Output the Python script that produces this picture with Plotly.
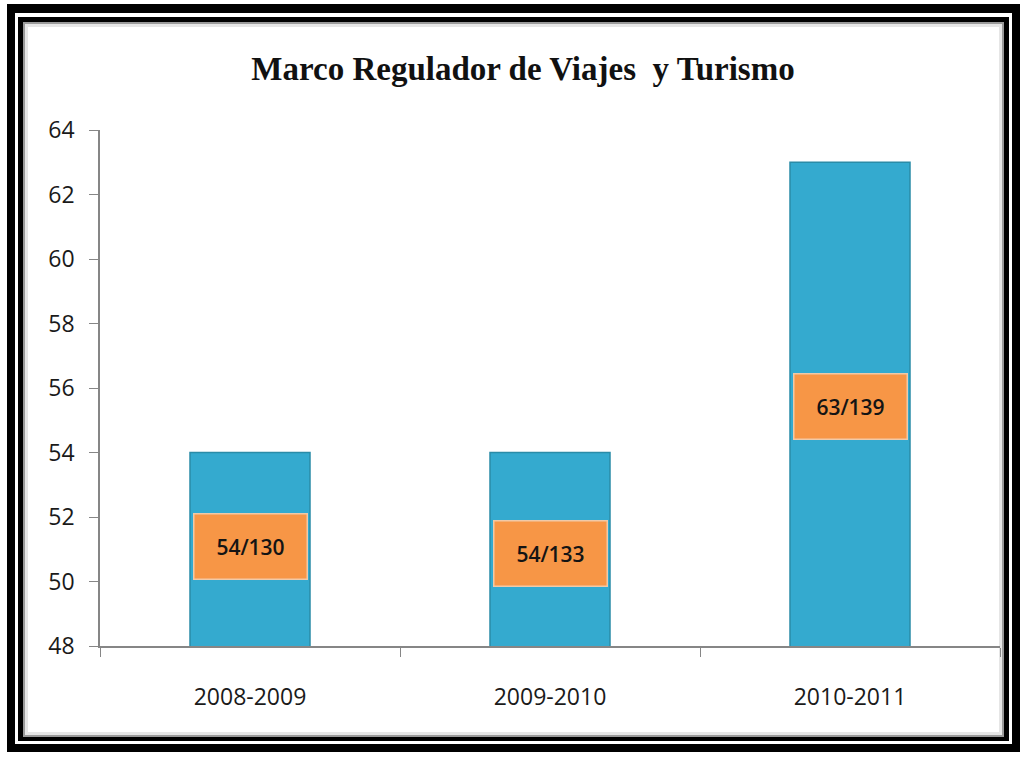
import plotly.graph_objects as go

# ---- data ----
categories = ["2008-2009", "2009-2010", "2010-2011"]
values = [54, 54, 63]
value_labels = ["54/130", "54/133", "63/139"]
y_ticks = [48, 50, 52, 54, 56, 58, 60, 62, 64]

# ---- layout constants (pixels) ----
W, H = 1023, 757
ML, MR, MT, MB = 100, 23, 130, 111
PW, PH = W - ML - MR, H - MT - MB

# label box placement (data units, y position of each label centre)
label_y = [51.07, 50.87, 55.43]


def px_x(p):
    return (p - ML) / PW


def px_y(p):
    return (H - MB - p) / PH


fig = go.Figure()
fig.add_trace(go.Bar(
    x=categories, y=values, width=0.4,
    marker=dict(color="#34AACF", line=dict(color="#2A8CA8", width=1.5)),
    hoverinfo="x+y", showlegend=False,
))

shapes = []
def rect(x0, y0, x1, y1, fill, line_color=None, lw=0):
    shapes.append(dict(
        type="rect", xref="paper", yref="paper", layer="below",
        x0=px_x(x0), x1=px_x(x1), y0=px_y(y1), y1=px_y(y0),
        fillcolor=fill, line=dict(color=line_color or fill, width=lw),
    ))

rect(7, 4, 1020, 752, "black")
rect(15, 13, 1012, 744, "white")
rect(18, 17, 1009, 741, "black")
rect(23, 22, 1004, 737, "#9a9a9a")
rect(25, 24, 1002, 735, "#e6e6e6")
rect(28, 27, 999, 732, "white")

annotations = []
for c, lab, ly in zip(categories, value_labels, label_y):
    annotations.append(dict(
        x=c, y=ly, xref="x", yref="y", text=lab, showarrow=False,
        width=112, height=64, bgcolor="#F79646", bordercolor="#F2C9A6",
        borderwidth=1.5, borderpad=0,
        font=dict(family="Open Sans", size=21, color="#141414", weight=600),
    ))

fig.update_layout(
    width=W, height=H,
    margin=dict(l=ML, r=MR, t=MT, b=MB, pad=0),
    paper_bgcolor="white", plot_bgcolor="rgba(0,0,0,0)",
    title=dict(
        text="<b>Marco Regulador de Viajes  y Turismo</b>",
        font=dict(family="Liberation Serif", size=33, color="#111111"),
        x=523 / W, xanchor="center", xref="container",
        y=1 - 68 / H, yanchor="middle", yref="container",
    ),
    shapes=shapes,
    annotations=annotations,
    bargap=0.6,
)

fig.update_xaxes(
    type="category", tickson="boundaries", ticks="outside", ticklen=9,
    tickcolor="#868686", showline=True, linecolor="#868686", linewidth=1.5,
    showgrid=False, ticklabelstandoff=30,
    tickfont=dict(family="Open Sans", size=23, color="#1a1a1a"),
)
fig.update_yaxes(
    range=[48, 64], tickvals=y_ticks, ticks="outside", ticklen=9,
    tickcolor="#868686", showline=True, linecolor="#868686", linewidth=1.5,
    showgrid=False, zeroline=False, ticklabelstandoff=10,
    tickfont=dict(family="Open Sans", size=23, color="#1a1a1a"),
)

fig.write_html("out.html", config={"displayModeBar": False},
               post_script="document.body.style.margin='0';")
